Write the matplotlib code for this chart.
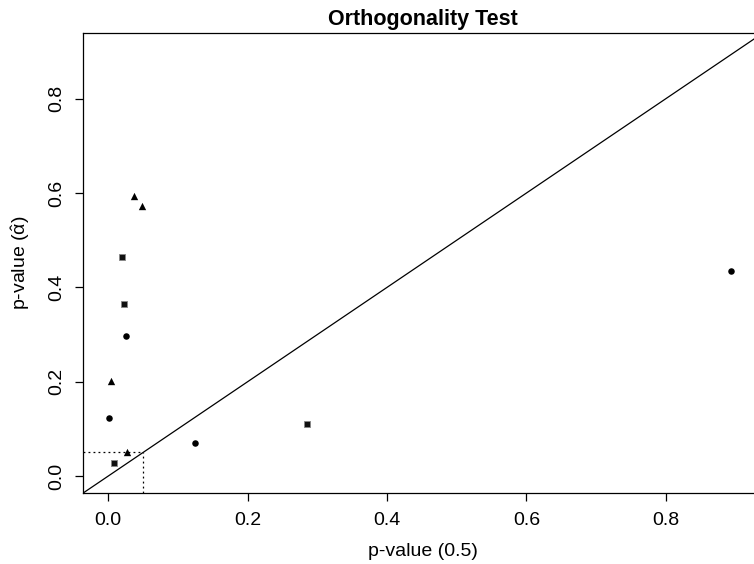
import matplotlib
matplotlib.use("Agg")
import matplotlib.pyplot as plt

plt.rcParams['font.family'] = ['Liberation Sans', 'DejaVu Sans']
plt.rcParams['mathtext.fontset'] = 'custom'
plt.rcParams['mathtext.rm'] = 'Liberation Sans'
plt.rcParams['mathtext.it'] = 'Liberation Sans:italic'

# data
tri_x = [0.037, 0.049, 0.004, 0.027]
tri_y = [0.594, 0.572, 0.201, 0.051]
sq_x = [0.019, 0.022, 0.0086, 0.2855]
sq_y = [0.464, 0.364, 0.027, 0.1096]
ci_x = [0.026, 0.001, 0.125, 0.894]
ci_y = [0.297, 0.124, 0.070, 0.434]
xticks = [0.0, 0.2, 0.4, 0.6, 0.8]
yticks = [0.0, 0.2, 0.4, 0.6, 0.8]

W, H = 754, 564
fig = plt.figure(figsize=(W/100, H/100), dpi=100)
left_px, bottom_px, top_px = 82.7, 493, 33
ax = fig.add_axes([left_px/W, (H-bottom_px)/H, (W-left_px)/W, (bottom_px-top_px)/H])

x0 = -0.0367
xppu = 697.0
y0 = -0.036
yppu = 471.7
ax.set_xlim(x0, x0 + (W-left_px)/xppu)
ax.set_ylim(y0, y0 + (bottom_px-top_px)/yppu)

ax.axline((0, 0), slope=1, color='black', lw=0.9)
ax.plot([x0, 0.05], [0.05, 0.05], ls=(0, (1.5, 2.5)), color='black', lw=0.9)
ax.plot([0.05, 0.05], [y0, 0.05], ls=(0, (1.5, 2.5)), color='black', lw=0.9)

ax.scatter(tri_x, tri_y, marker='^', s=28, color='black', zorder=3, linewidths=0)
ax.scatter(sq_x, sq_y, marker='s', s=24, color='#111111', edgecolors='#888888', linewidths=0.6, zorder=3)
ax.scatter(ci_x, ci_y, marker='o', s=22, color='black', zorder=3, linewidths=0)

ax.spines['right'].set_visible(False)
for s in ['left', 'top', 'bottom']:
    ax.spines[s].set_linewidth(0.9)

ax.set_xticks(xticks)
ax.set_xticklabels([f"{v:.1f}" for v in xticks])
ax.set_yticks(yticks)
ax.set_yticklabels([f"{v:.1f}" for v in yticks], rotation=90, va='center')
ax.tick_params(direction='out', length=5.5, width=0.9, labelsize=14, colors='black')
ax.tick_params(axis='x', pad=8)
ax.tick_params(axis='y', pad=7)

fig.text(422.5/W, 1 - 25/H, 'Orthogonality Test', ha='center', va='baseline', fontsize=15.5, fontweight='bold')
fig.text(422.5/W, 1 - 556/H, 'p-value (0.5)', ha='center', va='baseline', fontsize=14)
fig.text(21/W, 1 - 263/H, r'p-value ($\hat{\mathrm{\alpha}}$)', ha='center', va='center', fontsize=14, rotation=90)

fig.savefig('out.png', dpi=100)
